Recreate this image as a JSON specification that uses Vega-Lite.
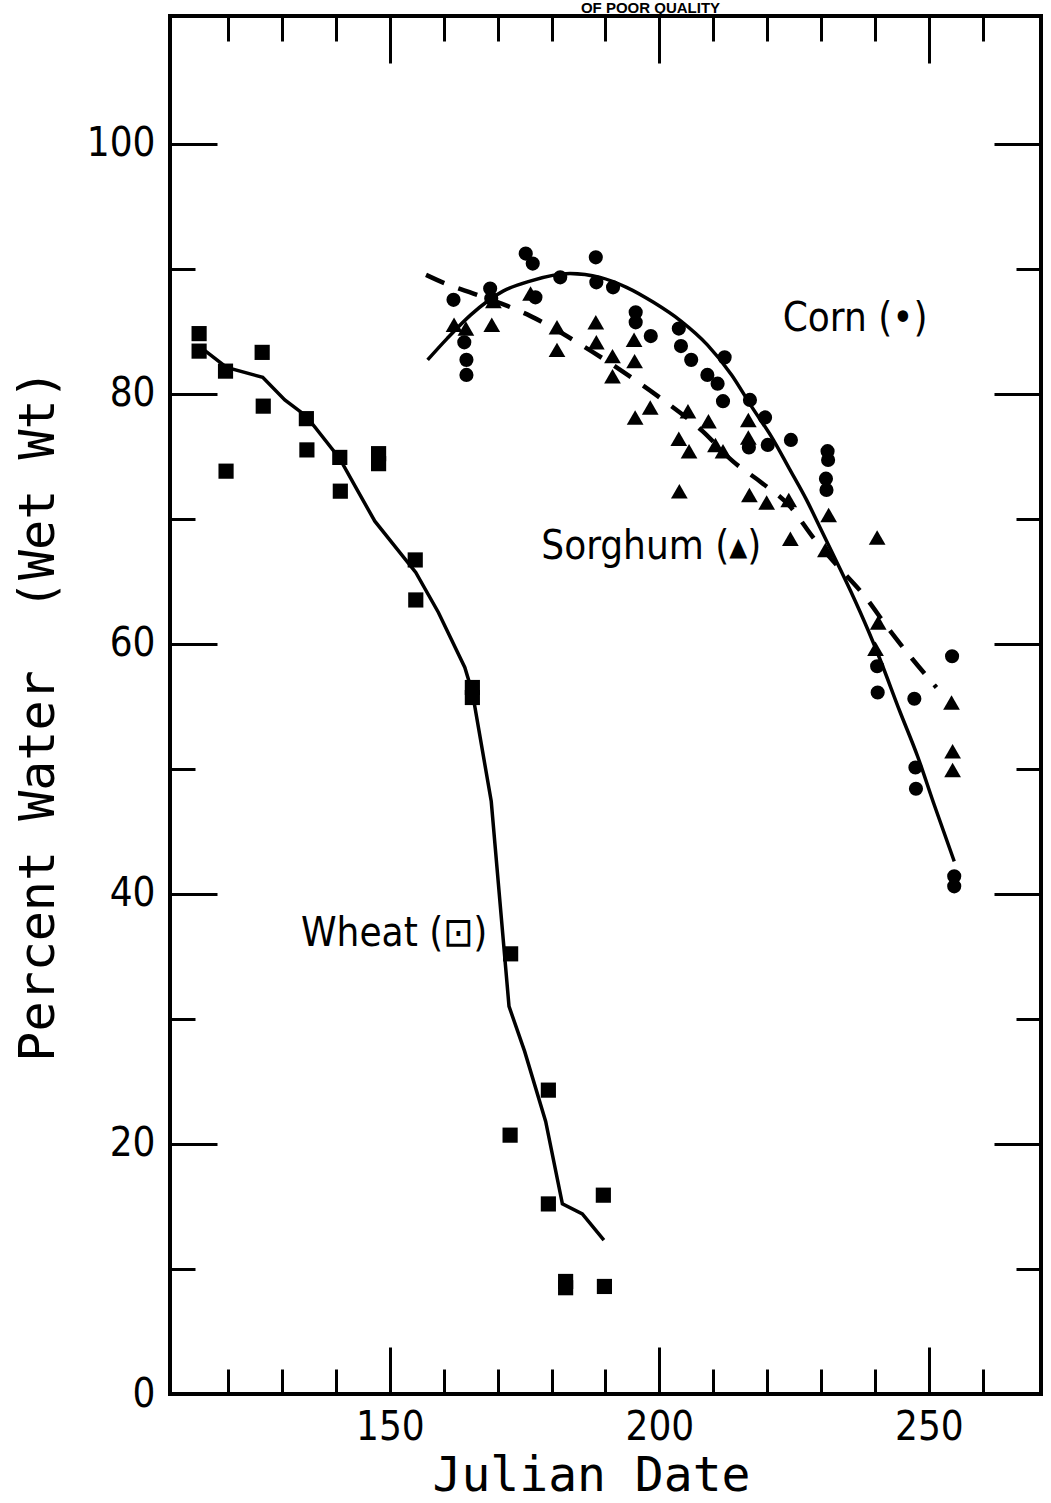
{
  "$schema": "https://vega.github.io/schema/vega-lite/v6.json",
  "width": 871,
  "height": 1378,
  "autosize": {"type": "none"},
  "padding": {"left": 170, "top": 16, "right": 10, "bottom": 109},
  "background": "white",
  "title": {"text": "OF POOR QUALITY", "font": "Liberation Sans", "fontSize": 15, "fontWeight": "bold", "color": "black", "anchor": "middle", "dx": 45, "offset": 0, "dy": 1},
  "config": {
    "view": {"stroke": "black", "strokeWidth": 4},
    "axis": {
      "domain": false,
      "grid": false,
      "tickColor": "black",
      "tickWidth": 3,
      "labelColor": "black",
      "titleColor": "black",
      "labelFont": "Liberation Sans Narrow, Arial Narrow, DejaVu Sans Condensed, Liberation Sans",
      "labelFontSize": 40,
      "labelFontWeight": "normal",
      "labelFlush": false,
      "labelOverlap": false,
      "titleFont": "DejaVu Sans Mono",
      "titleFontSize": 48,
      "titleFontWeight": "normal"
    }
  },
  "datasets": {
    "wheat": [
      {"day": 114.6, "water": 84.8}, {"day": 114.6, "water": 83.4}, {"day": 119.5, "water": 81.8}, {"day": 119.6, "water": 73.8},
      {"day": 126.3, "water": 83.3}, {"day": 126.5, "water": 79.0}, {"day": 134.5, "water": 78.0}, {"day": 134.6, "water": 75.5},
      {"day": 140.7, "water": 74.9}, {"day": 140.8, "water": 72.2}, {"day": 147.9, "water": 75.2}, {"day": 147.9, "water": 74.4},
      {"day": 154.7, "water": 66.7}, {"day": 154.8, "water": 63.5}, {"day": 165.3, "water": 56.5}, {"day": 165.3, "water": 55.7},
      {"day": 172.4, "water": 35.2}, {"day": 172.3, "water": 20.7}, {"day": 179.4, "water": 24.3}, {"day": 179.4, "water": 15.2},
      {"day": 182.6, "water": 9.0}, {"day": 182.6, "water": 8.5}, {"day": 189.6, "water": 15.9}, {"day": 189.8, "water": 8.6}
    ],
    "corn": [
      {"day": 161.8, "water": 87.5}, {"day": 163.8, "water": 84.1}, {"day": 164.2, "water": 82.7}, {"day": 164.2, "water": 81.5},
      {"day": 168.6, "water": 88.4}, {"day": 168.8, "water": 87.6}, {"day": 175.2, "water": 91.2}, {"day": 176.5, "water": 90.4},
      {"day": 177.0, "water": 87.7}, {"day": 181.6, "water": 89.3}, {"day": 188.2, "water": 90.9}, {"day": 188.3, "water": 88.9},
      {"day": 191.4, "water": 88.5}, {"day": 195.6, "water": 86.5}, {"day": 195.6, "water": 85.7}, {"day": 198.4, "water": 84.6},
      {"day": 203.6, "water": 85.2}, {"day": 204.0, "water": 83.8}, {"day": 205.9, "water": 82.7}, {"day": 208.9, "water": 81.5},
      {"day": 210.8, "water": 80.8}, {"day": 212.1, "water": 82.9}, {"day": 211.8, "water": 79.4}, {"day": 216.8, "water": 79.5},
      {"day": 216.6, "water": 75.7}, {"day": 219.6, "water": 78.1}, {"day": 220.1, "water": 75.9}, {"day": 224.4, "water": 76.3},
      {"day": 231.2, "water": 75.4}, {"day": 231.3, "water": 74.7}, {"day": 230.9, "water": 73.2}, {"day": 231.0, "water": 72.3},
      {"day": 240.4, "water": 58.2}, {"day": 240.5, "water": 56.1}, {"day": 247.3, "water": 55.6}, {"day": 247.5, "water": 50.1},
      {"day": 247.6, "water": 48.4}, {"day": 254.3, "water": 59.0}, {"day": 254.7, "water": 41.4}, {"day": 254.7, "water": 40.6}
    ],
    "sorghum": [
      {"day": 161.9, "water": 85.5}, {"day": 164.1, "water": 85.2}, {"day": 168.9, "water": 85.5}, {"day": 169.2, "water": 87.4},
      {"day": 176.1, "water": 88.0}, {"day": 181.0, "water": 85.3}, {"day": 181.0, "water": 83.5}, {"day": 188.2, "water": 85.7},
      {"day": 188.3, "water": 84.1}, {"day": 191.3, "water": 83.0}, {"day": 191.3, "water": 81.4}, {"day": 195.3, "water": 84.3},
      {"day": 195.4, "water": 82.6}, {"day": 195.5, "water": 78.1}, {"day": 198.3, "water": 78.9}, {"day": 203.7, "water": 72.2},
      {"day": 205.3, "water": 78.6}, {"day": 203.6, "water": 76.4}, {"day": 205.5, "water": 75.4}, {"day": 209.1, "water": 77.8},
      {"day": 210.4, "water": 75.9}, {"day": 211.8, "water": 75.4}, {"day": 216.5, "water": 77.9}, {"day": 216.5, "water": 76.5},
      {"day": 216.7, "water": 71.9}, {"day": 219.9, "water": 71.3}, {"day": 224.0, "water": 71.5}, {"day": 224.3, "water": 68.4},
      {"day": 230.8, "water": 67.5}, {"day": 231.4, "water": 70.3}, {"day": 240.4, "water": 68.5}, {"day": 240.6, "water": 61.7},
      {"day": 240.1, "water": 59.6}, {"day": 254.2, "water": 55.3}, {"day": 254.4, "water": 51.4}, {"day": 254.4, "water": 49.9}
    ],
    "wheatCurve": [
      {"day": 114.6, "water": 83.8}, {"day": 119.7, "water": 82.1}, {"day": 126.4, "water": 81.3}, {"day": 130.5, "water": 79.5},
      {"day": 134.5, "water": 78.2}, {"day": 140.7, "water": 74.8}, {"day": 143.8, "water": 72.4}, {"day": 147.2, "water": 69.8},
      {"day": 154.8, "water": 65.7}, {"day": 159.0, "water": 62.5}, {"day": 163.9, "water": 58.1}, {"day": 165.3, "water": 56.1},
      {"day": 168.8, "water": 47.4}, {"day": 172.1, "water": 31.0}, {"day": 175.0, "water": 27.4}, {"day": 178.9, "water": 21.8},
      {"day": 182.0, "water": 15.2}, {"day": 185.7, "water": 14.4}, {"day": 189.7, "water": 12.3}
    ],
    "cornCurve": [
      {"day": 157.0, "water": 82.7}, {"day": 160.6, "water": 84.4}, {"day": 165.0, "water": 86.3}, {"day": 171.0, "water": 88.2},
      {"day": 176.0, "water": 89.0}, {"day": 183.4, "water": 89.6}, {"day": 189.0, "water": 89.3}, {"day": 193.9, "water": 88.5},
      {"day": 198.9, "water": 87.3}, {"day": 204.0, "water": 85.8}, {"day": 208.9, "water": 83.9}, {"day": 213.4, "water": 81.5},
      {"day": 217.2, "water": 78.9}, {"day": 221.0, "water": 76.4}, {"day": 224.1, "water": 74.0}, {"day": 227.3, "water": 71.5},
      {"day": 229.8, "water": 69.3}, {"day": 232.5, "water": 66.9}, {"day": 235.5, "water": 64.2}, {"day": 238.8, "water": 61.0},
      {"day": 240.8, "water": 58.9}, {"day": 244.6, "water": 54.6}, {"day": 247.9, "water": 51.0}, {"day": 251.0, "water": 47.1},
      {"day": 254.7, "water": 42.6}
    ],
    "sorghumCurve": [
      {"day": 156.7, "water": 89.5}, {"day": 160.3, "water": 88.8}, {"day": 165.5, "water": 88.0}, {"day": 170.7, "water": 87.2},
      {"day": 176.1, "water": 86.2}, {"day": 185.5, "water": 83.9}, {"day": 194.1, "water": 81.5}, {"day": 199.7, "water": 79.8},
      {"day": 208.0, "water": 77.0}, {"day": 213.6, "water": 74.6}, {"day": 218.9, "water": 72.9}, {"day": 224.2, "water": 71.0},
      {"day": 228.7, "water": 68.4}, {"day": 233.1, "water": 66.2}, {"day": 238.1, "water": 63.8}, {"day": 242.5, "water": 61.2},
      {"day": 246.9, "water": 58.8}, {"day": 251.4, "water": 56.5}
    ],
    "labels": [
      {"label": "Corn (•)", "day": 236.3, "water": 86.0},
      {"label": "Sorghum (▴)", "day": 198.5, "water": 67.7},
      {"label": "Wheat (⊡)", "day": 150.8, "water": 36.8}
    ]
  },
  "layer": [
    {
      "data": {"name": "wheat"},
      "mark": {"type": "point", "shape": "square", "filled": true, "color": "black", "opacity": 1, "size": 230},
      "encoding": {
        "x": {"field": "day", "type": "quantitative", "scale": {"domain": [109.2, 270.8], "nice": false, "zero": false},
          "axis": {"orient": "bottom", "values": [150, 200, 250], "tickSize": -47, "labelPadding": 60, "title": "Julian Date", "titleX": 421, "titleY": 96, "titleBaseline": "alphabetic", "titleAlign": "center", "titleAngle": 0}},
        "y": {"field": "water", "type": "quantitative", "scale": {"domain": [0, 110.2], "nice": false, "zero": false},
          "axis": {"orient": "left", "values": [0, 20, 40, 60, 80, 100], "tickSize": -47, "labelPadding": 62, "labelAlign": "right", "labelBaseline": "middle", "title": "Percent Water\u00a0 (Wet Wt)", "titleX": -117, "titleY": 699, "titleAngle": -90, "titleBaseline": "alphabetic", "titleAlign": "center", "titleFontSize": 50}}
      }
    },
    {
      "data": {"name": "corn"},
      "mark": {"type": "point", "shape": "circle", "filled": true, "color": "black", "opacity": 1, "size": 200},
      "encoding": {
        "x": {"field": "day", "type": "quantitative", "scale": {"domain": [109.2, 270.8], "nice": false, "zero": false},
          "axis": {"orient": "bottom", "values": [120, 130, 140, 160, 170, 180, 190, 210, 220, 230, 240, 260], "tickSize": -25, "labels": false, "title": null}},
        "y": {"field": "water", "type": "quantitative", "scale": {"domain": [0, 110.2], "nice": false, "zero": false},
          "axis": {"orient": "left", "values": [10, 30, 50, 70, 90], "tickSize": -25, "labels": false, "title": null}}
      }
    },
    {
      "data": {"name": "sorghum"},
      "mark": {"type": "point", "shape": "triangle-up", "filled": true, "color": "black", "opacity": 1, "size": 280},
      "encoding": {
        "x": {"field": "day", "type": "quantitative", "scale": {"domain": [109.2, 270.8], "nice": false, "zero": false},
          "axis": {"orient": "top", "values": [150, 200, 250], "tickSize": -47, "labels": false, "title": null}},
        "y": {"field": "water", "type": "quantitative", "scale": {"domain": [0, 110.2], "nice": false, "zero": false},
          "axis": {"orient": "right", "values": [20, 40, 60, 80, 100], "tickSize": -47, "labels": false, "title": null}}
      }
    },
    {
      "data": {"name": "wheatCurve"},
      "mark": {"type": "line", "color": "black", "strokeWidth": 3.5, "interpolate": "linear"},
      "encoding": {
        "x": {"field": "day", "type": "quantitative", "scale": {"domain": [109.2, 270.8], "nice": false, "zero": false},
          "axis": {"orient": "top", "values": [120, 130, 140, 160, 170, 180, 190, 210, 220, 230, 240, 260], "tickSize": -25, "labels": false, "title": null}},
        "y": {"field": "water", "type": "quantitative", "scale": {"domain": [0, 110.2], "nice": false, "zero": false},
          "axis": {"orient": "right", "values": [10, 30, 50, 70, 90], "tickSize": -25, "labels": false, "title": null}}
      }
    },
    {
      "data": {"name": "cornCurve"},
      "mark": {"type": "line", "color": "black", "strokeWidth": 3.5, "interpolate": "monotone"},
      "encoding": {
        "x": {"field": "day", "type": "quantitative", "scale": {"domain": [109.2, 270.8], "nice": false, "zero": false}, "axis": null},
        "y": {"field": "water", "type": "quantitative", "scale": {"domain": [0, 110.2], "nice": false, "zero": false}, "axis": null}
      }
    },
    {
      "data": {"name": "sorghumCurve"},
      "mark": {"type": "line", "color": "black", "strokeWidth": 4.5, "strokeDash": [20, 15], "interpolate": "monotone"},
      "encoding": {
        "x": {"field": "day", "type": "quantitative", "scale": {"domain": [109.2, 270.8], "nice": false, "zero": false}, "axis": null},
        "y": {"field": "water", "type": "quantitative", "scale": {"domain": [0, 110.2], "nice": false, "zero": false}, "axis": null}
      }
    },
    {
      "data": {"name": "labels"},
      "mark": {"type": "text", "color": "black", "font": "Liberation Sans Narrow, Arial Narrow, DejaVu Sans Condensed, Liberation Sans", "fontSize": 40, "align": "center", "baseline": "middle"},
      "encoding": {
        "x": {"field": "day", "type": "quantitative", "scale": {"domain": [109.2, 270.8], "nice": false, "zero": false}, "axis": null},
        "y": {"field": "water", "type": "quantitative", "scale": {"domain": [0, 110.2], "nice": false, "zero": false}, "axis": null},
        "text": {"field": "label"}
      }
    }
  ],
  "resolve": {"axis": {"x": "independent", "y": "independent"}}
}
